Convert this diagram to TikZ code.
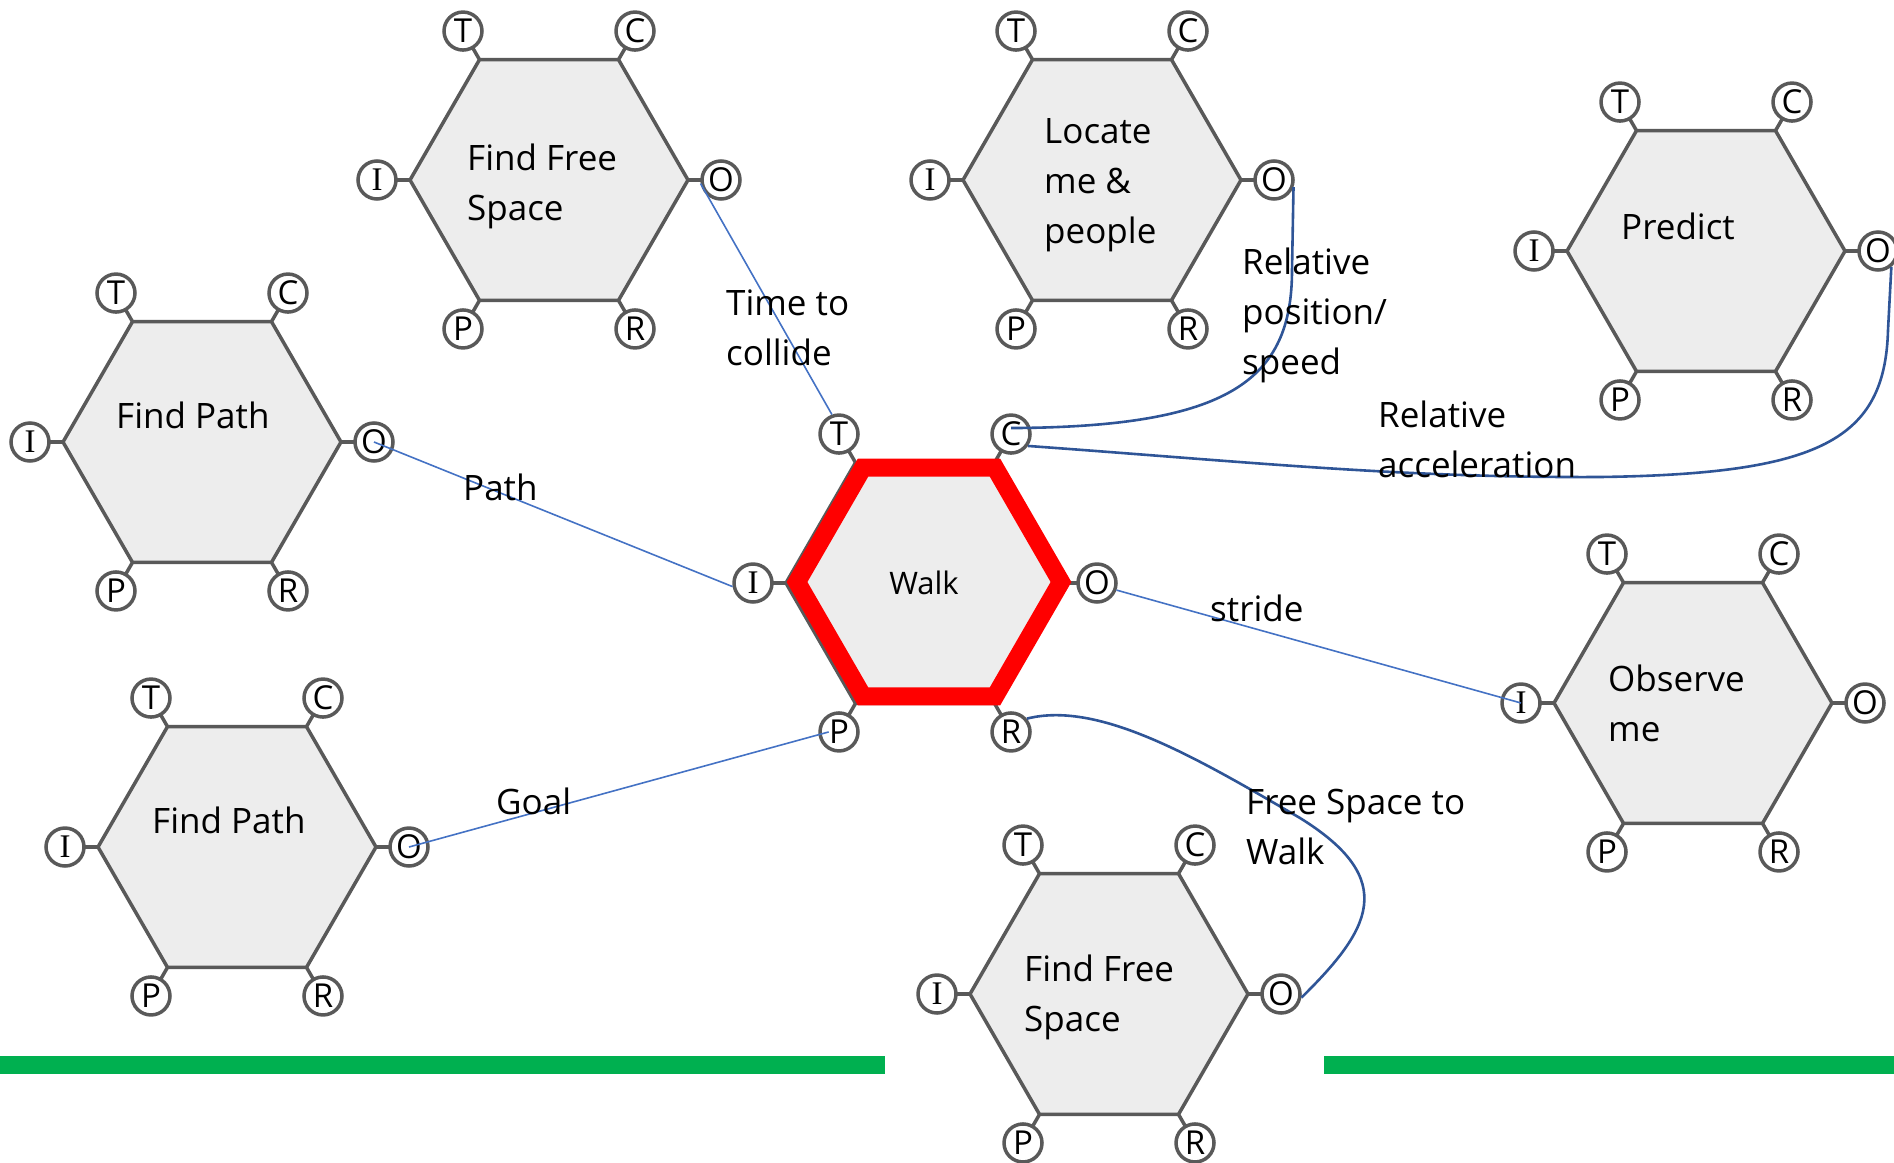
\documentclass[tikz,border=0pt]{standalone}
\usepackage{fontspec}
\setmainfont{Open Sans}
\newfontfamily\serifport{Liberation Serif}
\usetikzlibrary{calc}

\definecolor{hexgray}{HTML}{595959}
\definecolor{hexfill}{HTML}{EDEDED}
\definecolor{linkblue}{HTML}{4472C4}
\definecolor{flowblue}{HTML}{2F5597}
\definecolor{railgreen}{HTML}{00B050}

\tikzset{
  hexline/.style={draw=hexgray, fill=hexfill, line width=3.5pt, line join=round},
  stub/.style={draw=hexgray, line width=3.5pt},
  port/.style={circle, draw=hexgray, fill=white, line width=3.5pt, minimum size=38pt,
    inner sep=0pt, font=\fontsize{33}{33}\selectfont},
  hexlabel/.style={anchor=west, align=left, inner sep=0pt, font=\fontsize{35}{50}\selectfont},
  flowlabel/.style={anchor=west, align=left, inner sep=0pt, font=\fontsize{35}{50}\selectfont},
  link/.style={draw=linkblue, line width=1.6pt},
  flow/.style={draw=flowblue, line width=2.6pt},
  activeedge/.style={draw=red, line width=18pt, line join=miter},
  rail/.style={fill=railgreen},
}

% A module: flat-topped hexagon with six named ports T, C, O, R, P, I.
% #1 = name prefix, #2 = x, #3 = y (measured downwards)
\newcommand\hexmodule[3]{%
  \begin{scope}[shift={(#2,-#3)}]
    \draw[hexline] (0:139) -- (60:139) -- (120:139) -- (180:139) -- (240:139) -- (300:139) -- cycle;
    \foreach \ang/\pn/\txt in {120/T/T, 60/C/C, 0/O/O, -60/R/R, -120/P/P, 180/I/{\serifport I}} {
      \draw[stub] (\ang:139) -- (\ang:162);
      \node[port] (#1\pn) at (\ang:172) {\txt};
    }
  \end{scope}}

\begin{document}
\begin{tikzpicture}[x=1pt,y=1pt]
\useasboundingbox (0,0) rectangle (1894,-1162);

% green rails
\fill[rail] (0,-1056) rectangle (885,-1074);
\fill[rail] (1324,-1056) rectangle (1894,-1074);

% modules
\hexmodule{ffsA}{549}{180}
\hexmodule{loc}{1102}{180}
\hexmodule{pred}{1706}{251}
\hexmodule{fpA}{202}{442}
\hexmodule{fpB}{237}{847}
\hexmodule{walk}{925}{583}
\hexmodule{obs}{1693}{703}
\hexmodule{ffsB}{1109}{994}

% highlight of the active module
\begin{scope}[shift={(929,-582)}]
  \draw[activeedge] (0:132) -- (60:132) -- (120:132) -- (180:132) -- (240:132) -- (300:132) -- cycle;
\end{scope}

% module names
\node[hexlabel] (ffsAname) at (467,-186) {Find Free\\Space};
\node[hexlabel] (locname) at (1044,-185) {Locate\\me \&\\people};
\node[hexlabel] (predname) at (1621,-226) {Predict};
\node[hexlabel] (fpAname) at (116,-415) {Find Path};
\node[hexlabel] (fpBname) at (152,-820) {Find Path};
\node[font=\fontsize{31}{31}\selectfont, inner sep=0pt] (walkname) at (924,-583) {Walk};
\node[hexlabel] (obsname) at (1608,-703) {Observe\\me};
\node[hexlabel] (ffsBname) at (1024,-997) {Find Free\\Space};

% straight links
\draw[link] (ffsAO.190) -- (walkT.110);
\draw[link] (fpAO.center) -- (walkI.190);
\draw[link] (fpBO.center) -- ($(walkP.center)!0.5!(walkP.west)$);
\draw[link] (walkO.-20) -- (obsI.center);

% curved flows
\draw[flow] ($(walkC.center)+(0,6)$) .. controls (1230,-427) and (1292,-380) .. (1292,-270) -- (locO.-20);
\draw[flow] (walkC.-35) .. controls (1250,-462) and (1400,-478) .. (1600,-477)
  .. controls (1820,-474) and (1885,-440) .. (1888,-330) -- (predO.-50);
\draw[flow] (walkR.40) .. controls (1100,-700) and (1200,-760) .. (1300,-818)
  .. controls (1400,-880) and (1370,-930) .. (ffsBO.-10);

% connector labels
\node[flowlabel] (lblcollide) at (726,-328) {Time to\\collide};
\node[flowlabel] (lblpath) at (463,-487) {Path};
\node[flowlabel] (lblgoal) at (496,-801) {Goal};
\node[flowlabel] (lblstride) at (1210,-608) {stride};
\node[flowlabel] (lblpos) at (1242,-315) {Relative\\position/\\speed};
\node[flowlabel] (lblacc) at (1378,-439) {Relative\\acceleration};
\node[flowlabel] (lblfree) at (1246,-827) {Free Space to\\Walk};
\end{tikzpicture}
\end{document}
